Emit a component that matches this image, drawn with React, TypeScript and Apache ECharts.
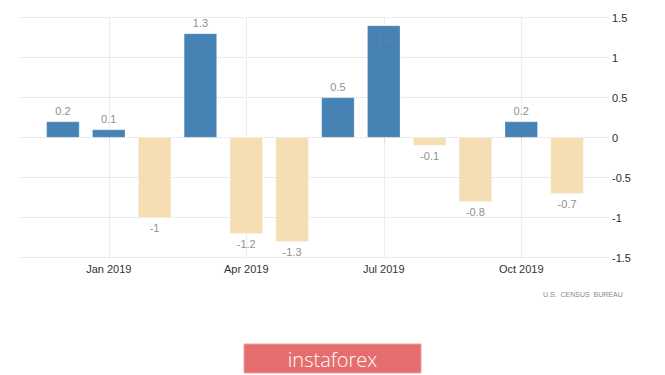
import React, { useEffect, useRef } from "react";
import * as echarts from "echarts";

const categories = [
  "Dec 2018", "Jan 2019", "Feb 2019", "Mar 2019", "Apr 2019", "May 2019",
  "Jun 2019", "Jul 2019", "Aug 2019", "Sep 2019", "Oct 2019", "Nov 2019",
];
const values = [0.2, 0.1, -1, 1.3, -1.2, -1.3, 0.5, 1.4, -0.1, -0.8, 0.2, -0.7];
const labeledMonths = ["Jan 2019", "Apr 2019", "Jul 2019", "Oct 2019"];
const insideLabelIndex = [7];
const yMin = -1.5;
const yMax = 1.5;
const yStep = 0.5;

export default function App() {
  const ref = useRef<HTMLDivElement>(null);
  useEffect(() => {
    if (!ref.current) return;
    const chart = echarts.init(ref.current, null, { renderer: "svg" });
    const font = "Liberation Sans, Arial, sans-serif";
    const dataItems = values.map((v, i) => {
      const item: any = {
        value: v,
        itemStyle: { color: v >= 0 ? "#4682b4" : "#f5deb3" },
        label: {
          position: v >= 0 ? "top" : "bottom",
        },
      };
      if (insideLabelIndex.includes(i)) {
        item.label = { position: "insideTop", color: "#6f7f99", distance: 8 };
      }
      return item;
    });
    chart.setOption({
      animation: false,
      grid: [
        { left: 20, right: 56, top: 17.5, bottom: 117.3 },
        { left: 40, right: 75, top: 17.5, bottom: 117.3 },
      ],
      xAxis: [
        { type: "value", gridIndex: 0, show: false, min: 0, max: 1 },
        {
          type: "category",
          gridIndex: 1,
          data: categories,
          axisLine: { show: false },
          axisTick: {
            show: true,
            alignWithLabel: true,
            interval: (i: number, v: string) => labeledMonths.includes(v),
            length: 5,
            lineStyle: { color: "#d8d8d8", type: "dotted" },
          },
          axisLabel: {
            interval: (i: number, v: string) => labeledMonths.includes(v),
            color: "#333",
            fontSize: 11,
            fontFamily: font,
            margin: 6,
          },
          splitLine: { show: false },
        },
      ],
      yAxis: [
        {
          type: "value",
          gridIndex: 0,
          position: "right",
          min: yMin,
          max: yMax,
          interval: yStep,
          axisLine: { show: false },
          axisTick: { show: false },
          axisLabel: { color: "#2a2a3a", fontSize: 11, fontFamily: font, margin: 3 },
          splitLine: { lineStyle: { color: "#d9d9d9", type: "dotted" } },
        },
        {
          type: "value",
          gridIndex: 1,
          min: yMin,
          max: yMax,
          interval: yStep,
          show: false,
          splitLine: { show: false },
        },
      ],
      series: [
        {
          type: "bar",
          xAxisIndex: 1,
          yAxisIndex: 1,
          data: dataItems,
          barWidth: 33,
          itemStyle: { borderColor: "rgba(255,255,255,0.5)", borderWidth: 0.5 },
          label: {
            show: true,
            color: "#909090",
            fontSize: 11,
            fontFamily: font,
            distance: 5,
          },
          markLine: {
            silent: true,
            symbol: "none",
            label: { show: false },
            lineStyle: { color: "#dcdcdc", type: "dotted", width: 1 },
            data: labeledMonths.map((m) => ({ xAxis: m })),
            z: 0,
          },
          z: 3,
        },
      ],
      graphic: [
        {
          type: "text",
          left: 543,
          top: 291,
          style: {
            text: "U.S.  CENSUS  BUREAU",
            fill: "#8a8a8a",
            fontSize: 7,
            fontFamily: font,
          },
        },
        {
          type: "rect",
          shape: { x: 244, y: 344, width: 177, height: 29 },
          style: { fill: "#e46e6e", stroke: "#f0a0a0", lineWidth: 1 },
        },
        {
          type: "text",
          x: 332.5,
          y: 359,
          style: {
            text: "instaforex",
            fill: "#ffffff",
            fontSize: 20,
            fontFamily: "Open Sans, sans-serif",
            fontWeight: 300,
            align: "center",
            verticalAlign: "middle",
          },
        },
      ],
    });
    return () => chart.dispose();
  }, []);
  return (
    <div
      ref={ref}
      style={{ position: "fixed", left: 0, top: 0, width: 665, height: 375, background: "#fff" }}
    />
  );
}
